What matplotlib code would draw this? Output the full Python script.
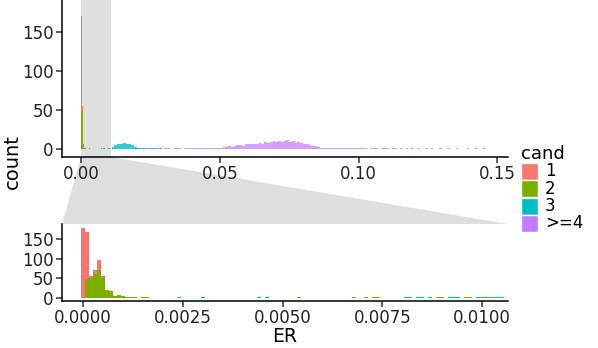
import matplotlib.pyplot as plt
from matplotlib.patches import Polygon
import numpy as np

# cand levels and ggplot hue colours
cands = ["1", "2", "3", ">=4"]
colors = ["#F8766D", "#7CAE00", "#00BFC4", "#C77CFF"]

# fine bins (width 0.0001), ER bin centres and counts per cand
fine_er_1 = [0.0000, 0.0001, 0.0002, 0.0003, 0.0004, 0.0005]
fine_n_1 = [179, 123, 5, 10, 27, 5]

fine_er_2 = [0.0001, 0.0002, 0.0003, 0.0004, 0.0005, 0.0006, 0.0007, 0.0008,
             0.0009, 0.0010, 0.0011, 0.0012, 0.0013, 0.0015, 0.0016,
             0.0054, 0.0068, 0.0071, 0.0073, 0.0074, 0.0089, 0.0090,
             0.0096, 0.0097, 0.0100, 0.0102]
fine_n_2 = [47, 50, 60, 70, 50, 20, 18, 3, 7, 5, 2, 2, 1, 1, 1,
            1, 1, 1, 1, 1, 1, 1, 1, 1, 2, 1]

fine_er_3 = [0.0024, 0.0030, 0.0044, 0.0046, 0.0081, 0.0082, 0.0084, 0.0085,
             0.0087, 0.0092, 0.0093, 0.0094, 0.0099, 0.0101, 0.0103, 0.0104,
             0.0105]
fine_n_3 = [1, 1, 1, 1, 1, 1, 1, 1, 1, 1, 1, 1, 1, 1, 2, 1, 1]

# coarse bins (width 0.001) for the long tail beyond the zoom window
coarse_er_3 = [0.0115, 0.0125, 0.0135, 0.0145, 0.0155, 0.0165, 0.0175,
               0.0185, 0.0195, 0.0205, 0.0215, 0.0225, 0.0235, 0.0255,
               0.0265, 0.0285]
coarse_n_3 = [3, 5, 6, 7, 8, 7, 6, 5, 3, 2, 1, 1, 1, 1, 1, 1]

coarse_er_4 = [0.0205, 0.0225, 0.0245, 0.0255, 0.0275, 0.0285, 0.0305,
               0.0315, 0.0335, 0.0345, 0.0355, 0.0375, 0.0385, 0.0395,
               0.0405, 0.0415, 0.0425, 0.0435, 0.0445, 0.0455, 0.0465,
               0.0475, 0.0485, 0.0495,
               0.0505, 0.0515, 0.0525, 0.0535, 0.0545, 0.0555, 0.0565,
               0.0575, 0.0585, 0.0595,
               0.0605, 0.0615, 0.0625, 0.0635, 0.0645, 0.0655, 0.0665,
               0.0675, 0.0685, 0.0695,
               0.0705, 0.0715, 0.0725, 0.0735, 0.0745, 0.0755, 0.0765,
               0.0775, 0.0785, 0.0795,
               0.0805, 0.0815, 0.0825, 0.0835, 0.0845, 0.0855, 0.0865,
               0.0875, 0.0885, 0.0895,
               0.0905, 0.0915, 0.0925, 0.0935, 0.0945, 0.0955, 0.0965,
               0.0975, 0.0985, 0.0995,
               0.1005, 0.1015, 0.1025, 0.1045, 0.1055, 0.1065, 0.1085,
               0.1095, 0.1105, 0.1125, 0.1135, 0.1155, 0.1175, 0.1195,
               0.1215, 0.1245, 0.1265, 0.1295, 0.1325, 0.1355, 0.1395,
               0.1425, 0.1455]
coarse_n_4 = [1, 1, 1, 1, 1, 1, 1,
              1, 1, 1, 1, 1, 1, 1,
              1, 1, 1, 1, 1, 2, 1,
              1, 2, 1,
              2, 3, 3, 4, 3, 4, 5,
              5, 4, 6,
              6, 7, 6, 7, 8, 7, 9,
              8, 9, 10,
              9, 11, 9, 10, 12, 9, 10,
              8, 9, 8,
              7, 6, 5, 4, 4, 3, 2,
              2, 2, 2,
              2, 1, 2, 1, 1, 1, 2,
              1, 1, 1,
              1, 1, 1, 1, 1, 1, 1,
              1, 1, 1, 1, 1, 1, 1,
              1, 1, 1, 1, 1, 1, 1,
              1, 1]

fine_w = 0.0001
coarse_w = 0.001

W, H = 598, 348
fig = plt.figure(figsize=(W / 100, H / 100), dpi=100)
ax_top = fig.add_axes([62 / W, 1 - 157 / H, 446 / W, 157 / H])
ax_bot = fig.add_axes([62 / W, 1 - 301 / H, 446 / W, 77 / H])

zoom_lo, zoom_hi = 0.0, 0.0107


def stack_fine(ax):
    # stacked like ggplot: first level ends up on top
    base = {}
    layers = [(2, fine_er_3, fine_n_3), (1, fine_er_2, fine_n_2),
              (0, fine_er_1, fine_n_1)]
    for k, er, n in layers:
        bottoms = [base.get(round(e, 5), 0) for e in er]
        ax.bar(er, n, width=fine_w, bottom=bottoms, color=colors[k],
               linewidth=0, zorder=2)
        for e, v in zip(er, n):
            base[round(e, 5)] = base.get(round(e, 5), 0) + v


for ax in (ax_top, ax_bot):
    stack_fine(ax)
    ax.bar(coarse_er_4, coarse_n_4, width=coarse_w, color=colors[3],
           alpha=0.75, linewidth=0, zorder=2)
    ax.bar(coarse_er_3, coarse_n_3, width=coarse_w, color=colors[2],
           alpha=0.8, linewidth=0, zorder=2)
    for side in ("top", "right"):
        ax.spines[side].set_visible(False)
    ax.spines["left"].set_linewidth(1.1)
    ax.spines["bottom"].set_linewidth(1.1)
    ax.tick_params(length=4, width=1.1, labelsize=12, color="#333333",
                   labelcolor="#222222", pad=2)

ax_top.axvspan(zoom_lo, zoom_hi, color="#dedede", zorder=0, linewidth=0)
ax_top.set_xlim(-0.0069, 0.1539)
ax_top.set_ylim(-10, 190.5)
ax_top.set_xticks([0.0, 0.05, 0.10, 0.15],
                  labels=["0.00", "0.05", "0.10", "0.15"])
ax_top.set_yticks([0, 50, 100, 150])

ax_bot.set_xlim(-0.00053, 0.01065)
ax_bot.set_ylim(-9, 190)
ax_bot.set_xticks([0.0, 0.0025, 0.005, 0.0075, 0.01],
                  labels=["0.0000", "0.0025", "0.0050", "0.0075", "0.0100"])
ax_bot.set_yticks([0, 50, 100, 150])

# zoom connector between the panels
x0 = ax_top.transData.transform((zoom_lo, 0))[0]
x1 = ax_top.transData.transform((zoom_hi, 0))[0]
top_y = H - 157
bot_y = H - 224
poly = Polygon([(x0 / W, top_y / H), (x1 / W, top_y / H),
                (508 / W, bot_y / H), (62 / W, bot_y / H)],
               closed=True, transform=fig.transFigure, facecolor="#dedede",
               edgecolor="none", zorder=-1)
fig.patches.append(poly)

fig.text(12 / W, 1 - 162 / H, "count", rotation=90, ha="center",
         va="center", fontsize=14)
fig.text(285 / W, 1 - 337 / H, "ER", ha="center", va="center",
         fontsize=13.5)

# legend
fig.text(521 / W, 1 - 154 / H, "cand", ha="left", va="center", fontsize=13)
for i, (lab, col) in enumerate(zip(cands, colors)):
    yc = 171 + i * 17.5
    fig.patches.append(plt.Rectangle((521 / W, 1 - (yc + 8.5) / H), 17 / W,
                                     17 / H, transform=fig.transFigure,
                                     facecolor=col, edgecolor="white"))
    fig.text(545 / W, 1 - yc / H, lab, ha="left", va="center", fontsize=12)

fig.savefig("out.png", dpi=100)
